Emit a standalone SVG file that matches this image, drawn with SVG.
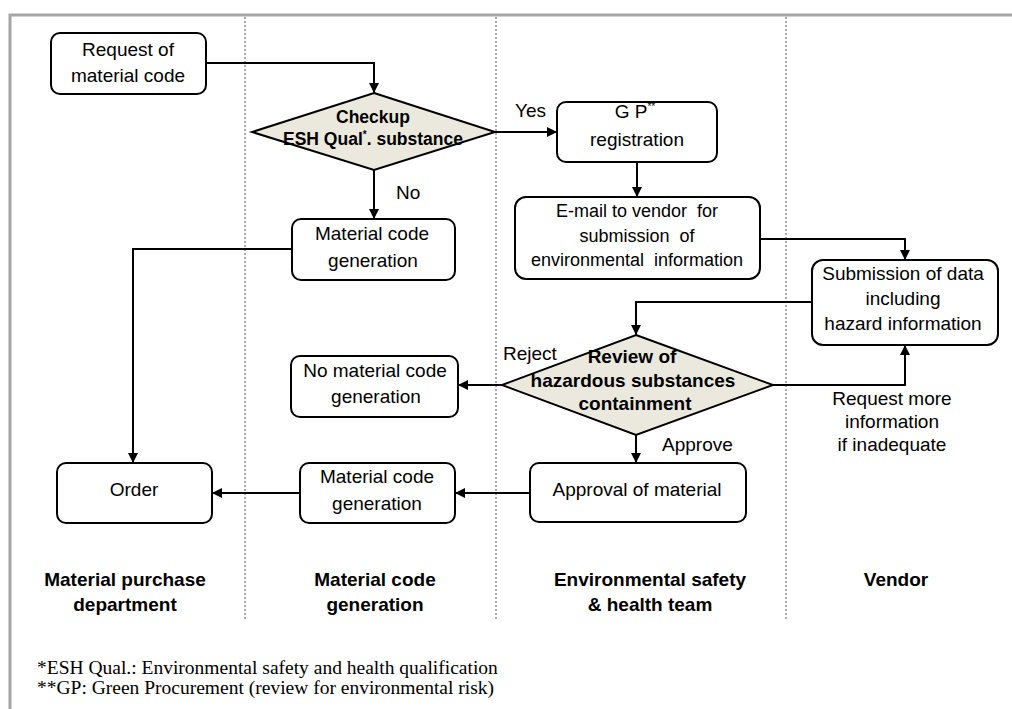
<svg xmlns="http://www.w3.org/2000/svg" width="1012" height="709" viewBox="0 0 1012 709">
<defs>
<marker id="ah" viewBox="0 0 10 10" refX="10" refY="5" markerWidth="11" markerHeight="10" markerUnits="userSpaceOnUse" orient="auto">
<path d="M0,0 L10,5 L0,10 z" fill="#000"/>
</marker>
</defs>
<style>
.box{fill:#fff;stroke:#000;stroke-width:2}
.dia{fill:#EBE9DE;stroke:#000;stroke-width:2}
.t{font-family:"Liberation Sans",Arial,sans-serif;font-size:19px;fill:#000;text-anchor:middle}
.tb{font-family:"Liberation Sans",Arial,sans-serif;font-size:17.5px;font-weight:bold;fill:#000;text-anchor:middle}
.tb2{font-family:"Liberation Sans",Arial,sans-serif;font-size:19px;font-weight:bold;fill:#000;text-anchor:middle}
.lab{font-family:"Liberation Sans",Arial,sans-serif;font-size:19px;fill:#000}
.lane{font-family:"Liberation Sans",Arial,sans-serif;font-size:19px;font-weight:bold;fill:#000;text-anchor:middle}
.fn{font-family:"Liberation Serif","Times New Roman",serif;font-size:19.5px;fill:#000}
.c{fill:none;stroke:#000;stroke-width:2;marker-end:url(#ah)}
.div{stroke:#aaa;stroke-width:2;stroke-dasharray:2,2}
.frame{fill:none;stroke:#a6a6a6;stroke-width:3}
</style>
<rect width="1012" height="709" fill="#fff"/>
<path class="frame" d="M10,709 L10,15 L1012,15"/>
<g id="dividers">
<line class="div" x1="245" y1="17" x2="245" y2="620"/>
<line class="div" x1="496" y1="17" x2="496" y2="620"/>
<line class="div" x1="786" y1="17" x2="786" y2="620"/>
</g>
<g id="connectors">
<path class="c" d="M206,63 H374 V93"/>
<path class="c" d="M495,132 H557"/>
<path class="c" d="M374,170 V219"/>
<path class="c" d="M637,162 V197"/>
<path class="c" d="M760,239 H905 V260"/>
<path class="c" d="M292,249 H133 V463"/>
<path class="c" d="M812,302 H636 V335"/>
<path class="c" d="M502,385 H458"/>
<path class="c" d="M773,385 H905 V345"/>
<path class="c" d="M636,435 V463"/>
<path class="c" d="M530,493 H455"/>
<path class="c" d="M300,493 H212"/>
</g>
<g id="n-request">
<rect class="box" x="51" y="33" width="155" height="61" rx="9"/>
<text class="t" x="128" y="56">Request of</text>
<text class="t" x="128" y="82">material code</text>
</g>
<g id="n-checkup">
<polygon class="dia" points="374,93 495,132 374,170 252,132"/>
<text class="tb" x="373" y="123">Checkup</text>
<text class="tb" x="373" y="145">ESH Qual<tspan font-size="10" dy="-7">*</tspan><tspan dy="7">. substance</tspan></text>
</g>
<g id="n-gp">
<rect class="box" x="557" y="102" width="160" height="60" rx="9"/>
<text class="t" x="635" y="118">G P<tspan font-size="10" dy="-8">**</tspan></text>
<text class="t" x="637" y="146">registration</text>
</g>
<g id="n-email">
<rect class="box" x="515" y="197" width="245" height="82" rx="11"/>
<text class="t" x="637" y="217" style="font-size:18px;white-space:pre">E-mail to vendor  for</text>
<text class="t" x="637" y="242" style="font-size:18px;white-space:pre">submission  of</text>
<text class="t" x="637" y="266" style="font-size:18px;white-space:pre">environmental  information</text>
</g>
<g id="n-mcg1">
<rect class="box" x="292" y="219" width="163" height="61" rx="9"/>
<text class="t" x="372" y="240">Material code</text>
<text class="t" x="373" y="267">generation</text>
</g>
<g id="n-submission">
<rect class="box" x="812" y="260" width="186" height="85" rx="11"/>
<text class="t" x="903" y="280">Submission of data</text>
<text class="t" x="903" y="305">including</text>
<text class="t" x="903" y="330">hazard information</text>
</g>
<g id="n-review">
<polygon class="dia" points="636,335 773,385 636,435 502,385"/>
<text class="tb2" x="632" y="363">Review of</text>
<text class="tb2" x="633" y="387">hazardous substances</text>
<text class="tb2" x="635" y="410">containment</text>
</g>
<g id="n-nomat">
<rect class="box" x="291" y="356" width="167" height="61" rx="9"/>
<text class="t" x="375" y="377">No material code</text>
<text class="t" x="376" y="403">generation</text>
</g>
<g id="n-approval">
<rect class="box" x="530" y="463" width="216" height="59" rx="9"/>
<text class="t" x="637" y="496">Approval of material</text>
</g>
<g id="n-mcg2">
<rect class="box" x="300" y="463" width="155" height="60" rx="9"/>
<text class="t" x="377" y="483">Material code</text>
<text class="t" x="377" y="510">generation</text>
</g>
<g id="n-order">
<rect class="box" x="57" y="463" width="155" height="60" rx="9"/>
<text class="t" x="134" y="496">Order</text>
</g>
<g id="labels">
<text class="lab" x="515" y="117">Yes</text>
<text class="lab" x="396" y="199">No</text>
<text class="lab" x="503" y="360">Reject</text>
<text class="lab" x="662" y="451">Approve</text>
<text class="t" x="892" y="405">Request more</text>
<text class="t" x="892" y="428">information</text>
<text class="t" x="892" y="451">if inadequate</text>
</g>
<g id="lanes">
<text class="lane" x="125" y="586">Material purchase</text>
<text class="lane" x="125" y="611">department</text>
<text class="lane" x="375" y="586">Material code</text>
<text class="lane" x="375" y="611">generation</text>
<text class="lane" x="650" y="586">Environmental safety</text>
<text class="lane" x="650" y="611">&amp; health team</text>
<text class="lane" x="896" y="586">Vendor</text>
</g>
<g id="footnotes">
<text class="fn" x="37" y="674">*ESH Qual.: Environmental safety and health qualification</text>
<text class="fn" x="37" y="694">**GP: Green Procurement (review for environmental risk)</text>
</g>
</svg>
